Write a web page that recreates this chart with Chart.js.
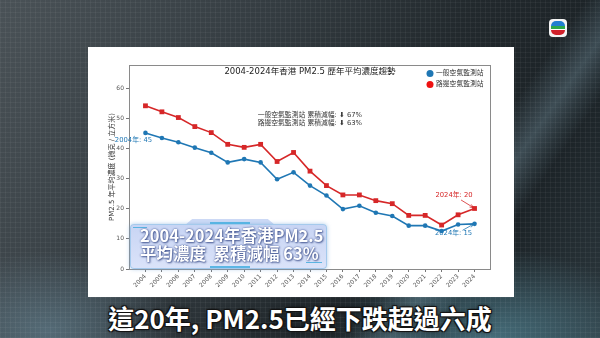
<!DOCTYPE html>
<html><head><meta charset="utf-8">
<script src="https://cdn.jsdelivr.net/npm/chart.js@4.4.1/dist/chart.umd.min.js"></script>
<style>
html,body{margin:0;padding:0;}
body{width:600px;height:338px;overflow:hidden;position:relative;
background:
 repeating-linear-gradient(90deg, rgba(255,255,255,0.045) 0 1px, transparent 1px 5px),
 repeating-linear-gradient(0deg, rgba(255,255,255,0.045) 0 1px, transparent 1px 5px),
 radial-gradient(ellipse 160px 90px at 82% 100%, rgba(100,165,185,0.55), transparent 100%),
 radial-gradient(ellipse 130px 80px at 8% 98%, rgba(120,160,180,0.45), transparent 100%),
 linear-gradient(125deg, rgba(255,255,255,0) 70%, rgba(160,200,220,0.25) 75%, rgba(255,255,255,0) 80%),
 linear-gradient(120deg, #4a5257 0%, #343c41 35%, #22292d 60%, #1b2226 80%, #2c383e 100%);}
#panel{position:absolute;left:88px;top:47px;width:426px;height:250px;background:#fff;}
#c{position:absolute;left:0;top:0;}
.box{position:absolute;left:130px;top:224px;width:195px;height:43px;border-radius:4px;
 background:linear-gradient(180deg, rgba(190,205,242,0.85), rgba(212,222,248,0.85));
 border:1px solid rgba(160,200,235,0.9);box-shadow:0 0 4px rgba(120,170,220,0.6);}
.tab{position:absolute;left:185px;top:219px;width:90px;height:6px;
 background:rgba(200,214,244,0.9);clip-path:polygon(8% 0,92% 0,100% 100%,0 100%);}
.bar{position:absolute;background:rgba(70,175,225,0.85);height:2px;}
.bl{position:absolute;font-family:'Noto Sans CJK TC','Noto Sans',sans-serif;font-weight:700;font-size:16.5px;color:#fff;
 white-space:pre;line-height:18px;text-shadow:0 0 2px rgba(40,60,130,0.9),1px 1px 2px rgba(40,60,120,0.7);}
#sub{position:absolute;left:0;width:600px;top:303px;text-align:center;font-family:'Noto Sans CJK TC','Noto Sans',sans-serif;
 font-weight:700;font-size:26px;line-height:30px;color:#fff;
 text-shadow:0 0 2px #000,1px 1px 0 #1a1a1a,-1px -1px 0 #1a1a1a,1px -1px 0 #1a1a1a,-1px 1px 0 #1a1a1a,0 0 4px rgba(0,0,0,0.8);}
#logo{position:absolute;left:549px;top:19px;width:18px;height:18px;border-radius:4px;background:#f4f4f4;}
#logo div{position:absolute;left:2px;top:2px;width:14px;height:14px;border-radius:5px;
 background:linear-gradient(180deg,#1f7fd0 0 34%,#2aa84a 34% 58%,#ffffff 58% 64%,#d0202a 64% 100%);}
</style></head><body>
<div id="logo"><div></div></div>
<div id="panel"><canvas id="c" width="426" height="250"></canvas></div>
<div class="tab"></div>
<div class="box"></div>
<div class="bar" style="left:210px;top:222px;width:40px;"></div>
<div class="bar" style="left:210px;top:266px;width:40px;"></div>
<div class="bar" style="left:133px;top:227px;width:14px;height:1px;"></div>
<div class="bar" style="left:306px;top:262px;width:16px;height:1px;"></div>
<div class="bl" id="bl1" style="left:140px;top:226px;"></div>
<div class="bl" id="bl2" style="left:140px;top:244px;"></div>
<div id="sub"></div>
<script>
const years = [2004,2005,2006,2007,2008,2009,2010,2011,2012,2013,2014,2015,2016,2017,2018,2019,2020,2021,2022,2023,2024];
const generalStation = [45.2,43.5,42.1,40.3,38.6,35.4,36.5,35.4,29.8,32.1,27.7,24.4,19.9,21.0,18.7,17.6,14.4,14.4,12.6,14.8,15.0];
const roadsideStation = [54.2,52.2,50.3,47.3,45.3,41.4,40.4,41.4,35.7,38.7,32.5,27.7,24.6,24.6,22.7,21.7,17.8,17.8,14.6,18.0,20.1];
const yTicks = [0,10,20,30,40,50,60];
const seriesNames = ['一般空氣監測站','路邊空氣監測站'];
const chartTitle = '2004-2024年香港 PM2.5 歷年平均濃度趨勢';
const yTitle = 'PM2.5 年平均濃度 (微克 / 立方米)';
const reductionPct = [67, 63];
const boxLines = ['2004-2024年香港PM2.5', '平均濃度  累積減幅 63%'];
const subtitle = '這20年, PM2.5已經下跌超過六成';

document.getElementById('bl1').textContent = boxLines[0];
document.getElementById('bl2').textContent = boxLines[1];
document.getElementById('sub').textContent = subtitle;

const BLUE = '#1f77b4', RED = '#d62728';
const FF = "'DejaVu Sans','Noto Sans CJK TC',sans-serif";

function arrow(ctx, x1, y1, x2, y2, color){
  ctx.strokeStyle = color; ctx.fillStyle = color; ctx.lineWidth = 0.8;
  ctx.beginPath(); ctx.moveTo(x1,y1); ctx.lineTo(x2,y2); ctx.stroke();
  const ang = Math.atan2(y2-y1, x2-x1), L = 4;
  ctx.beginPath(); ctx.moveTo(x2,y2);
  ctx.lineTo(x2 - L*Math.cos(ang-0.4), y2 - L*Math.sin(ang-0.4));
  ctx.moveTo(x2,y2);
  ctx.lineTo(x2 - L*Math.cos(ang+0.4), y2 - L*Math.sin(ang+0.4));
  ctx.stroke();
}

const overlay = {
  id: 'overlay',
  afterDraw(chart){
    const {ctx, chartArea:a, scales:{x, y}} = chart;
    ctx.save();
    ctx.strokeStyle = '#8a8a8a'; ctx.lineWidth = 1;
    ctx.strokeRect(Math.round(a.left)+0.5, Math.round(a.top)+0.5, Math.round(a.right-a.left)-1, Math.round(a.bottom-a.top));
    const cx = (a.left + a.right)/2;
    ctx.fillStyle = '#222'; ctx.font = `8.5px ${FF}`; ctx.textAlign = 'center'; ctx.textBaseline = 'middle';
    ctx.fillText(chartTitle, cx, a.top + 6.5);
    const lc = [BLUE, '#ee1111'];
    ctx.font = `6.8px ${FF}`; ctx.textAlign = 'left';
    for (let i=0;i<2;i++){
      const ly = a.top + 8.5 + i*11;
      ctx.fillStyle = lc[i]; ctx.beginPath(); ctx.arc(a.right - 61, ly, 3.5, 0, Math.PI*2); ctx.fill();
      ctx.fillStyle = '#333'; ctx.fillText(seriesNames[i], a.right - 55, ly);
    }
    ctx.textAlign = 'right'; ctx.fillStyle = '#333'; ctx.font = `6.8px ${FF}`;
    for (let i=0;i<2;i++){
      ctx.fillText(`${seriesNames[i]} 累積減幅: ⬇ ${reductionPct[i]}%`, a.left + 233, a.top + 50.7 + i*7.6);
    }
    const n = years.length - 1;
    ctx.font = `6.8px ${FF}`; ctx.textAlign = 'center';
    let px = x.getPixelForValue(years[0]), py = y.getPixelForValue(generalStation[0]);
    ctx.fillStyle = BLUE; ctx.fillText(`${years[0]}年: ${Math.round(generalStation[0])}`, px - 12, py + 7.5);
    px = x.getPixelForValue(years[n]); py = y.getPixelForValue(roadsideStation[n]);
    ctx.fillStyle = RED; ctx.fillText(`${years[n]}年: ${Math.round(roadsideStation[n])}`, px - 20.5, py - 13.7);
    arrow(ctx, px - 13.5, py - 8.5, px - 1, py - 0.8, RED);
    py = y.getPixelForValue(generalStation[n]);
    ctx.fillStyle = BLUE; ctx.fillText(`${years[n]}年: ${Math.round(generalStation[n])}`, px - 21, py + 9);
    arrow(ctx, px - 12, py + 6.5, px - 1, py + 0.3, BLUE);
    ctx.restore();
  }
};

new Chart(document.getElementById('c'), {
  type: 'line',
  data: {
    datasets: [
      { label: seriesNames[0], data: years.map((yr,i)=>({x:yr, y:generalStation[i]})),
        borderColor: BLUE, backgroundColor: BLUE, borderWidth: 1.6, pointStyle: 'circle', pointRadius: 2.3, pointBorderWidth: 0 },
      { label: seriesNames[1], data: years.map((yr,i)=>({x:yr, y:roadsideStation[i]})),
        borderColor: RED, backgroundColor: RED, borderWidth: 1.6, pointStyle: 'rect', pointRadius: 3.4, pointBorderWidth: 0 }
    ]
  },
  options: {
    responsive: false, animation: false, devicePixelRatio: 1,
    layout: { padding: { left: 0, right: 23, top: 18, bottom: 0 } },
    plugins: { legend: { display: false }, tooltip: { enabled: false } },
    scales: {
      x: {
        type: 'linear', min: 2003, max: 2025,
        afterBuildTicks: s => { s.ticks = years.map(v => ({ value: v })); },
        afterFit: s => { s.height = 28; },
        border: { display: false },
        grid: { drawOnChartArea: false, tickLength: 3, color: '#777' },
        ticks: { autoSkip: false, maxRotation: 45, minRotation: 45, padding: 1, color: '#555',
                 font: { family: FF, size: 6 }, callback: v => String(v) }
      },
      y: {
        min: 0, max: 67.75,
        afterBuildTicks: s => { s.ticks = yTicks.map(v => ({ value: v })); },
        afterFit: s => { s.width = 41; },
        border: { display: false },
        grid: { drawOnChartArea: false, tickLength: 3, color: '#777' },
        ticks: { padding: 2, color: '#555', font: { family: FF, size: 6 } },
        title: { display: true, text: yTitle, color: '#333', font: { family: FF, size: 7 }, padding: { top: 20, bottom: 0 } }
      }
    }
  },
  plugins: [overlay]
});
</script>
</body></html>
